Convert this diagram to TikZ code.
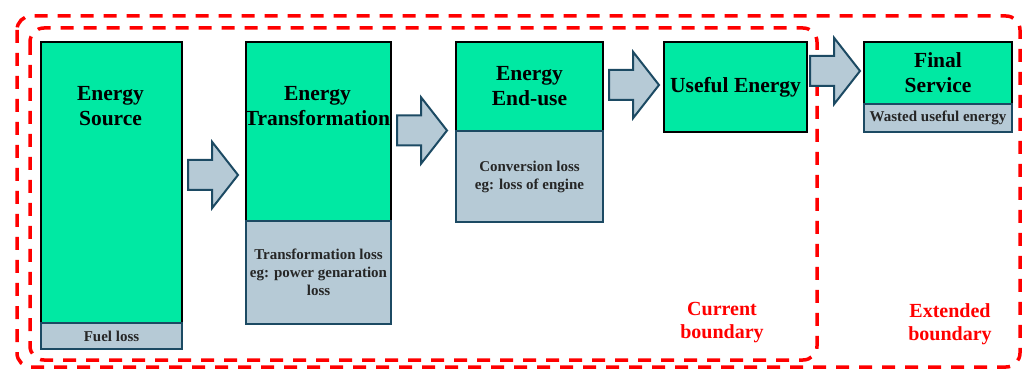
\documentclass[tikz,border=0pt]{standalone}
\usepackage{fontspec}
\setmainfont{Liberation Serif}
\usetikzlibrary{shapes.arrows}
\definecolor{boxgreen}{RGB}{0,233,163}
\definecolor{lossgrey}{RGB}{182,202,214}
\definecolor{edgeblue}{RGB}{28,74,99}
\definecolor{bndred}{RGB}{255,0,0}
\tikzset{
  gain/.style={draw=black, line width=2pt, fill=boxgreen, anchor=north west, inner sep=0pt, align=center, font=\bfseries\fontsize{21.5}{25}\selectfont},
  loss/.style={draw=edgeblue, line width=2pt, fill=lossgrey, anchor=north west, inner sep=0pt, align=center, text=black!85, font=\bfseries\fontsize{15}{18}\selectfont},
  title/.style={align=center, inner sep=0pt, font=\bfseries\fontsize{21.5}{25}\selectfont},
  flowarrow/.style={single arrow, draw=edgeblue, line width=2pt, fill=lossgrey, anchor=tail, minimum height=50pt, inner xsep=0pt, inner ysep=14pt, single arrow head extend=18pt, single arrow tip angle=104},
  bound/.style={draw=bndred, line width=3.5pt, dash pattern=on 13pt off 10pt, rounded corners=14pt},
  bndlabel/.style={text=bndred, align=center, inner sep=0pt, font=\bfseries\fontsize{20}{23}\selectfont}
}

\begin{document}
\begin{tikzpicture}[x=1pt, y=-1pt]
    \useasboundingbox (0,0) rectangle (1025,371);
    \draw [bound] (17,16) rectangle (1020,367);
    \draw [bound] (30,28) rectangle (817,360);

    \node [gain, minimum width=141pt, minimum height=281pt] (src) at (40,41) {};
    \node [loss, minimum width=141pt, minimum height=26pt] (srcloss) at (40,322) {Fuel loss};
    \node [title] (srctitle) at (110.5,106) {Energy\\Source};

    \node [gain, minimum width=145pt, minimum height=179pt] (trf) at (245,41) {};
    \node [loss, minimum width=145pt, minimum height=103pt] (trfloss) at (245,220) {Transformation loss\\eg: power genaration\\loss};
    \node [title] (trftitle) at (317.5,106) {Energy\\Transformation};

    \node [gain, minimum width=147pt, minimum height=89pt] (use) at (455,41) {Energy\\End-use};
    \node [loss, minimum width=147pt, minimum height=91pt] (useloss) at (455,130) {Conversion loss\\eg: loss of engine};

    \node [gain, minimum width=143pt, minimum height=90pt] (useful) at (663,41) {Useful Energy};

    \node [gain, minimum width=148pt, minimum height=62pt] (final) at (863,41) {Final\\Service};
    \node [loss, minimum width=148pt, minimum height=28pt] (finalloss) at (863,103) {Wasted useful energy};

    \foreach \x/\y/\n in {187/175/step1, 396/130.5/step2, 608/85/step3, 809/71/step4} {
      \node [flowarrow] (\n) at (\x,\y) {};
    }

    \node [bndlabel] (current) at (722,323) {Current\\boundary};
    \node [bndlabel] (extended) at (950,324) {Extended\\boundary};
  \end{tikzpicture}
\end{document}
